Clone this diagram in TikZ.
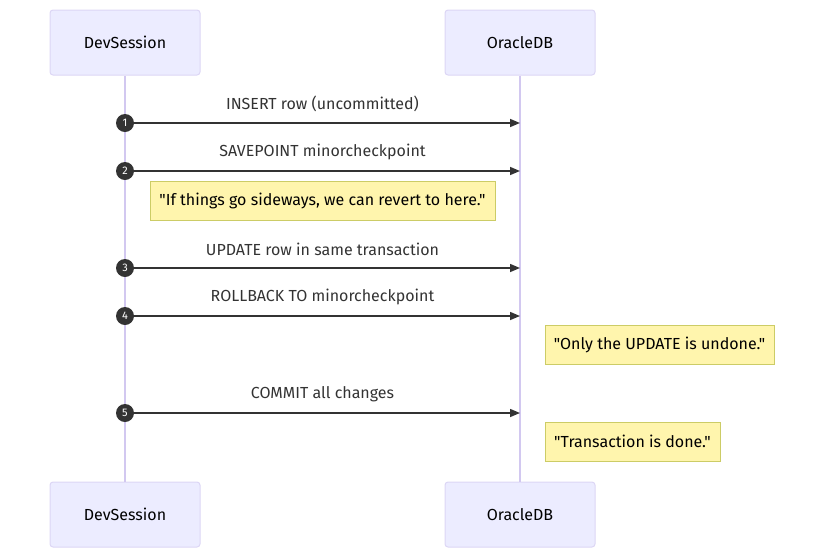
\documentclass[tikz,border=0pt]{standalone}
\usepackage{fontspec}
\setmainfont{Fira Sans}[Ligatures=TeXOff]
\usetikzlibrary{positioning}
\usetikzlibrary{arrows.meta}

\definecolor{actorfill}{HTML}{ECECFF}
\definecolor{actorline}{HTML}{DCD6F5}
\definecolor{lifeline}{HTML}{D2C8F0}
\definecolor{notefill}{HTML}{FFF5AD}
\definecolor{noteline}{HTML}{CCCC66}
\definecolor{msgline}{HTML}{333333}

\begin{document}
\begin{tikzpicture}[x=1pt, y=-1pt,
            actor/.style={draw=actorline, fill=actorfill, rounded corners=3pt, line width=1pt,
            minimum width=150pt, minimum height=65pt, font=\fontsize{16}{19}\selectfont},
            note/.style={draw=noteline, fill=notefill, line width=1pt, minimum height=39pt,
            inner sep=0pt, font=\fontsize{16}{19}\selectfont},
            num/.style={circle, fill=msgline, text=white, inner sep=0pt, minimum size=18pt,
            font=\fontsize{11}{11}\selectfont},
            msg/.style={line width=1.5pt, draw=msgline, -{Triangle[length=10pt,width=8pt]}},
            msglabel/.style={text=msgline, font=\fontsize{16}{19}\selectfont}]
        \useasboundingbox (0,0) rectangle (824,558);

        \node[actor] (dev-top) at (125,42.5) {DevSession};
        \node[actor] (ora-top) at (520,42.5) {OracleDB};
        \node[actor] (dev-bot) at (125,514.5) {DevSession};
        \node[actor] (ora-bot) at (520,514.5) {OracleDB};

        \draw[lifeline, line width=1.2pt] (dev-top) -- (dev-bot);
        \draw[lifeline, line width=1.2pt] (ora-top) -- (ora-bot);

        \coordinate (end1) at (520,123);
        \coordinate (end2) at (520,171);
        \coordinate (end3) at (520,268);
        \coordinate (end4) at (520,316);
        \coordinate (end5) at (520,413);

        \node[num] (n1) at (125,123) {1};
        \node[num] (n2) at (125,171) {2};
        \node[num] (n3) at (125,268) {3};
        \node[num] (n4) at (125,316) {4};
        \node[num] (n5) at (125,413) {5};

        \draw[msg] (n1) -- (end1);
        \draw[msg] (n2) -- (end2);
        \draw[msg] (n3) -- (end3);
        \draw[msg] (n4) -- (end4);
        \draw[msg] (n5) -- (end5);

        \node[msglabel] (l1) at (322.5,104) {INSERT row (uncommitted)};
        \node[msglabel] (l2) at (322.5,152) {SAVEPOINT minorcheckpoint};
        \node[msglabel] (l3) at (322.5,249) {UPDATE row in same transaction};
        \node[msglabel] (l4) at (322.5,297) {ROLLBACK TO minorcheckpoint};
        \node[msglabel] (l5) at (322.5,394) {COMMIT all changes};

        \node[note, minimum width=345pt] (save-note) at (322.5,200.5) {"If things go sideways, we can revert to here."};
        \node[note, minimum width=229pt] (undo-note) at (659.5,345) {"Only the UPDATE is undone."};
        \node[note, minimum width=175pt] (done-note) at (632.5,441.5) {"Transaction is done."};
    \end{tikzpicture}
\end{document}
